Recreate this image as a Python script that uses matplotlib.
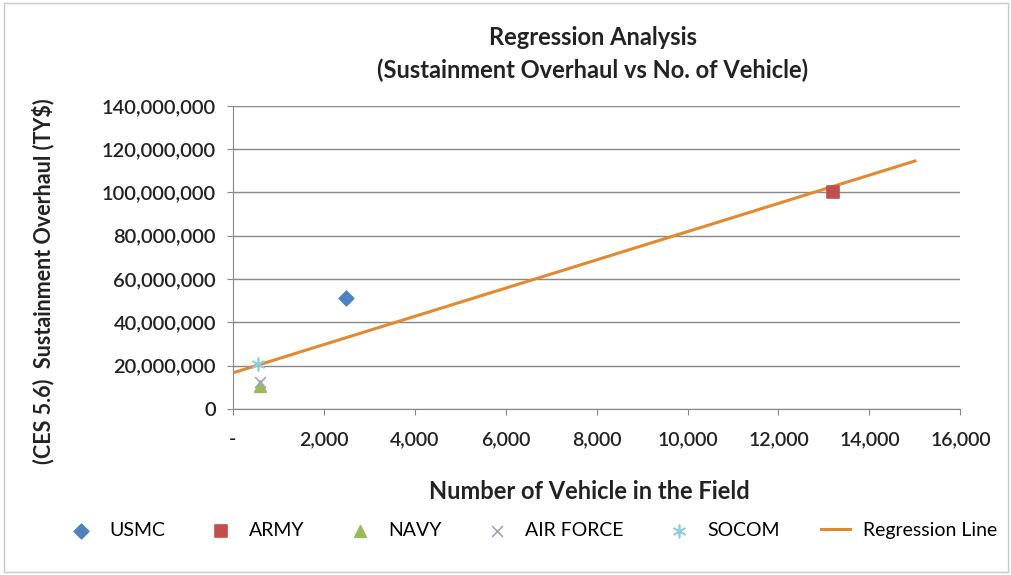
import numpy as np
import matplotlib.pyplot as plt
from matplotlib.ticker import FuncFormatter

plt.rcParams['font.family'] = ['Lato', 'DejaVu Sans']

# service data points (vehicles in field, sustainment overhaul TY$)
services = ['USMC', 'ARMY', 'NAVY', 'AIR FORCE', 'SOCOM']
vehicles = [2500, 13200, 600, 600, 550]
overhaul = [51300000, 100000000, 10500000, 12500000, 20500000]

# regression line endpoints
reg_x = [0, 15000]
reg_y = [16600000, 114500000]

colors = ['#4F81BD', '#C0504D', '#9BBB59', '#A8A2B4', '#8FCBD8']
markers = ['D', 's', '^', 'x', (6, 2, 0)]
sizes = [55, 70, 70, 60, 80]

fig = plt.figure(figsize=(10.12, 5.75), dpi=100)
ax = fig.add_axes([0.230, 0.289, 0.719, 0.527])

ax.plot(reg_x, reg_y, color='#E3892F', lw=2.2, label='Regression Line', zorder=3)
for i, name in enumerate(services):
    ax.scatter(vehicles[i], overhaul[i], color=colors[i], marker=markers[i],
               s=sizes[i], label=name, zorder=4, linewidths=1.2)

ax.set_xlim(0, 16000)
ax.set_ylim(0, 140000000)
ax.set_xticks(np.arange(0, 16001, 2000))
ax.set_yticks(np.arange(0, 140000001, 20000000))
ax.xaxis.set_major_formatter(FuncFormatter(lambda v, p: '-' if v == 0 else f'{int(v):,}'))
ax.yaxis.set_major_formatter(FuncFormatter(lambda v, p: f'{int(v):,}'))
ax.tick_params(labelsize=14, color='#888888', length=4, labelcolor='#222222')
ax.tick_params(axis='x', pad=12)
ax.tick_params(axis='y', pad=8)
for lab in ax.get_xticklabels() + ax.get_yticklabels():
    lab.set_fontweight('semibold')
    lab.set_fontsize(14.5 if lab in ax.get_yticklabels() else 14)
ax.grid(axis='y', color='#888888', lw=1)
ax.set_axisbelow(True)
for s in ['top', 'right']:
    ax.spines[s].set_visible(False)
for s in ['left', 'bottom']:
    ax.spines[s].set_color('#888888')

fig.text(0.586, 0.934, 'Regression Analysis', ha='center', va='center',
         fontsize=17, fontweight='bold', color='#222222')
fig.text(0.586, 0.878, '(Sustainment Overhaul vs No. of Vehicle)', ha='center',
         va='center', fontsize=17, fontweight='bold', color='#222222')
ax.set_xlabel('Number of Vehicle in the Field', fontsize=17, fontweight='bold',
              color='#222222')
ax.xaxis.set_label_coords(0.49, -0.234)
ax.set_ylabel('(CES 5.6)  Sustainment Overhaul (TY$)', fontsize=15.5,
              fontweight='bold', color='#222222')
ax.yaxis.set_label_coords(-0.245, 0.42)

handles, labels = ax.get_legend_handles_labels()
order = [1, 2, 3, 4, 5, 0]
fig.legend([handles[i] for i in order], [labels[i] for i in order],
           loc='center', bbox_to_anchor=(0.526, 0.078), ncol=6, frameon=False,
           fontsize=14, columnspacing=2.1, handlelength=1.5, handletextpad=0.7)

fig.patches.append(plt.Rectangle((0.004, 0.006), 0.992, 0.988, transform=fig.transFigure,
                                 fill=False, edgecolor='#C8C8C8', lw=1))

fig.savefig('out.png', dpi=100)
